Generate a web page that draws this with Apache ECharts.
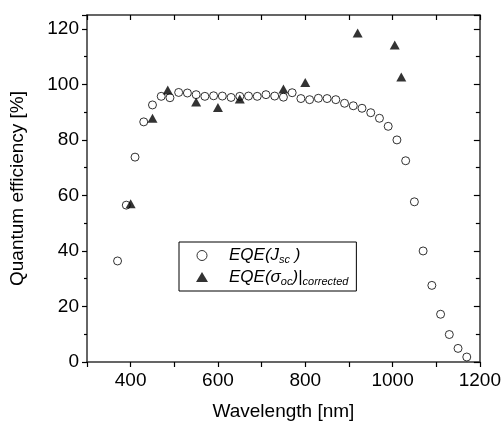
<!DOCTYPE html>
<html>
<head>
<meta charset="utf-8">
<script src="https://cdn.jsdelivr.net/npm/echarts@6/dist/echarts.min.js"></script>
<style>
  html, body { margin: 0; padding: 0; background: #ffffff; }
  #chart { width: 504px; height: 426px; }
</style>
</head>
<body>
<div id="chart"></div>
<script>
// External quantum efficiency from short-circuit current, 20 nm steps
const wavelengthsJsc = [370, 390, 410, 430, 450, 470, 490, 510, 530, 550, 570, 590, 610, 630, 650, 670, 690, 710, 730, 750, 770,
  790, 810, 830, 850, 870, 890, 910, 930, 950, 970, 990, 1010, 1030, 1050, 1070, 1090, 1110, 1130, 1150, 1170];
const eqeJsc = [36.4, 56.5, 73.8, 86.5, 92.6, 95.7, 95.2, 97.1, 96.9, 96.3, 95.7, 95.9, 95.8, 95.3, 95.7, 95.8, 95.7, 96.3, 95.8, 95.4, 97.0,
  94.9, 94.5, 95.0, 94.9, 94.5, 93.2, 92.3, 91.4, 89.8, 87.8, 84.9, 80.0, 72.5, 57.7, 40.0, 27.6, 17.2, 9.9, 4.9, 1.8];

// Corrected EQE from open-circuit conductance
const wavelengthsSigma = [400, 450, 485, 550, 600, 650, 750, 800, 920, 1005, 1020];
const eqeSigma = [57.0, 87.8, 98.0, 93.7, 91.7, 94.7, 98.3, 100.7, 118.5, 114.2, 102.7];

const xTickLabels = [400, 600, 800, 1000, 1200];
const yTickLabels = [0, 20, 40, 60, 80, 100, 120];

const seriesNames = ['EQE(Jsc)', 'EQE(σoc)|corrected'];

const FONT = "'Liberation Sans', Arial, Helvetica, sans-serif";
const AXIS_COLOR = '#333333';

const chart = echarts.init(document.getElementById('chart'), null, { renderer: 'canvas' });

const baseAxisLine = { show: true, onZero: false, lineStyle: { color: AXIS_COLOR, width: 1.5 } };

const option = {
  animation: false,
  backgroundColor: '#ffffff',
  grid: { left: 81, right: 24, top: 15, bottom: 62, containLabel: false },
  xAxis: [
    {
      type: 'value', position: 'bottom', min: 300, max: 1200, interval: 100,
      name: 'Wavelength [nm]', nameLocation: 'middle', nameGap: 40,
      nameTextStyle: { fontFamily: FONT, fontSize: 19, color: '#000' },
      axisLine: baseAxisLine,
      axisTick: { show: true, inside: false, length: 5, lineStyle: { color: '#000', width: 1.2 } },
      axisLabel: {
        fontFamily: FONT, fontSize: 19, color: '#000', margin: 9,
        formatter: v => (xTickLabels.indexOf(v) >= 0 ? String(v) : '')
      },
      splitLine: { show: false }
    },
    {
      type: 'value', position: 'top', min: 300, max: 1200, interval: 100,
      axisLine: baseAxisLine,
      axisTick: { show: true, inside: true, length: 5, lineStyle: { color: '#000', width: 1.2 } },
      axisLabel: { show: false },
      splitLine: { show: false }
    }
  ],
  yAxis: [
    {
      type: 'value', position: 'left', min: 0, max: 125, interval: 20,
      name: 'Quantum efficiency [%]', nameLocation: 'middle', nameGap: 60, nameRotate: 90,
      nameTextStyle: { fontFamily: FONT, fontSize: 19, color: '#000' },
      axisLine: baseAxisLine,
      axisTick: { show: true, inside: false, length: 5, lineStyle: { color: '#000', width: 1.2 } },
      minorTick: { show: true, splitNumber: 2, length: 3, lineStyle: { color: '#000', width: 1.2 } },
      axisLabel: {
        fontFamily: FONT, fontSize: 19, color: '#000', margin: 8,
        formatter: v => (yTickLabels.indexOf(v) >= 0 ? String(v) : '')
      },
      splitLine: { show: false }, minorSplitLine: { show: false }
    },
    {
      type: 'value', position: 'right', min: 0, max: 125, interval: 20,
      axisLine: baseAxisLine,
      axisTick: { show: true, inside: true, length: 6, lineStyle: { color: '#000', width: 1.2 } },
      minorTick: { show: true, splitNumber: 2, length: 4, lineStyle: { color: '#000', width: 1.2 } },
      axisLabel: { show: false },
      splitLine: { show: false }, minorSplitLine: { show: false }
    }
  ],
  legend: {
    show: true,
    orient: 'vertical',
    left: 179, top: 242,
    width: 177,
    padding: [5, 8, 4, 17],
    itemGap: 3,
    itemWidth: 12, itemHeight: 10,
    borderColor: '#000', borderWidth: 1, backgroundColor: '#fff',
    data: [
      { name: seriesNames[0], icon: 'circle', itemStyle: { color: '#fff', borderColor: '#000', borderWidth: 1 } },
      { name: seriesNames[1], icon: 'triangle', itemStyle: { color: '#000' } }
    ],
    formatter: name => (name === seriesNames[0]
      ? '{n|EQE(J}{s|sc}{n| )}'
      : '{n|EQE(σ}{s|oc}{n|)|}{s|corrected}'),
    textStyle: {
      padding: [0, 0, 0, 16],
      rich: {
        n: { fontFamily: FONT, fontStyle: 'italic', fontSize: 17, color: '#000', lineHeight: 20 },
        s: { fontFamily: FONT, fontStyle: 'italic', fontSize: 11, color: '#000', lineHeight: 12, verticalAlign: 'bottom' }
      }
    }
  },
  series: [
    {
      name: seriesNames[0], type: 'scatter', xAxisIndex: 0, yAxisIndex: 0,
      data: wavelengthsJsc.map((w, i) => [w, eqeJsc[i]]),
      symbol: 'circle', symbolSize: 8,
      itemStyle: { color: '#fff', borderColor: '#000', borderWidth: 1 },
      z: 3
    },
    {
      name: seriesNames[1], type: 'scatter', xAxisIndex: 0, yAxisIndex: 0,
      data: wavelengthsSigma.map((w, i) => [w, eqeSigma[i]]),
      symbol: 'triangle', symbolSize: [10, 9],
      itemStyle: { color: '#000' },
      z: 4
    }
  ]
};

chart.setOption(option);
</script>
</body>
</html>
